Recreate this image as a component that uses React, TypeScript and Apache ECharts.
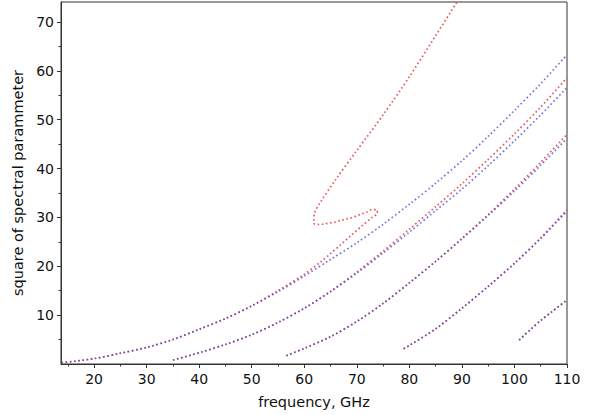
import React, { useEffect, useRef } from "react";
import * as echarts from "echarts";

const xTicks = [20, 30, 40, 50, 60, 70, 80, 90, 100, 110];
const xMinorTicks = [15, 25, 35, 45, 55, 65, 75, 85, 95, 105];
const yTicks = [10, 20, 30, 40, 50, 60, 70];
const yMinorTicks = [5, 15, 25, 35, 45, 55, 65];

// mode 1 (red: with the fold and the steep branch)
const red1F = [13.8, 20, 25, 30, 35, 40, 45, 50, 55, 60, 63, 65, 66.9, 68.9, 71, 72.9, 73.9, 73.9, 72.9, 71.9, 70.9, 69.9, 68.9, 67.9, 66.9, 65.9, 65, 63.9, 62.9, 61.8, 61.96, 63, 66, 70, 75, 80, 85, 89, 90];
const red1V = [0.27, 1.1, 2.2, 3.4, 5.0, 7.1, 9.3, 11.9, 15.0, 18.4, 20.8, 22.6, 24.4, 26.3, 28.3, 30.0, 30.9, 31.5, 31.6, 31.1, 30.7, 30.3, 29.9, 29.65, 29.4, 29.1, 28.9, 28.7, 28.56, 28.8, 30.9, 33.0, 37.8, 43.7, 51.0, 58.8, 67.2, 74.0, 75.8];
const blue1F = [13.8, 20, 25, 30, 35, 40, 45, 50, 55, 60, 65, 70, 75, 80, 85, 90, 95, 100, 105, 110];
const blue1V = [0.27, 1.1, 2.2, 3.4, 5.0, 7.1, 9.3, 11.9, 14.8, 18.0, 21.4, 24.8, 28.6, 32.7, 37.0, 41.6, 46.6, 51.9, 57.4, 63.3];

// mode 2
const mode2F = [35, 40, 45, 50, 55, 60, 65, 70, 75, 80, 85, 90, 95, 100, 105, 110];
const red2V = [0.8, 2.3, 4.0, 6.0, 8.5, 11.4, 14.9, 18.8, 23.1, 27.6, 32.2, 36.9, 41.9, 47.1, 52.6, 58.6];
const blue2V = [0.8, 2.3, 4.0, 6.0, 8.5, 11.4, 14.8, 18.6, 22.7, 27.0, 31.4, 35.8, 40.6, 45.7, 51.0, 56.6];

// mode 3
const mode3F = [56.6, 60, 65, 70, 75, 80, 85, 90, 95, 100, 105, 110];
const red3V = [1.7, 3.2, 5.6, 8.7, 12.4, 16.6, 21.0, 25.7, 30.6, 35.8, 41.3, 47.0];
const blue3V = [1.7, 3.2, 5.6, 8.7, 12.4, 16.6, 21.0, 25.6, 30.4, 35.4, 40.7, 46.2];

// mode 4
const mode4F = [78.9, 80, 85, 90, 95, 100, 105, 110];
const red4V = [3.1, 3.8, 7.2, 11.4, 15.9, 20.6, 25.8, 31.6];
const blue4V = [3.1, 3.8, 7.2, 11.4, 15.9, 20.6, 25.7, 31.3];

// mode 5
const mode5F = [100.9, 103, 105, 107, 110];
const red5V = [4.9, 7.0, 8.9, 10.6, 13.1];
const blue5V = [4.9, 7.0, 8.9, 10.6, 13.1];

const RED = "#e8464a";
const BLUE = "#4444cc";
const FONT = "DejaVu Sans";

const zip = (f: number[], v: number[]) => f.map((x, i) => [x, v[i]]);

function dotted(name: string, data: number[][], color: string, opacity: number) {
  return {
    name,
    type: "line",
    data,
    showSymbol: false,
    symbol: "none",
    smooth: 0.3,
    clip: true,
    lineStyle: { color, width: 1.7, type: [1.6, 2.6], opacity },
    emphasis: { disabled: true },
  };
}

export default function App() {
  const ref = useRef<HTMLDivElement>(null);
  useEffect(() => {
    if (!ref.current) return;
    const chart = echarts.init(ref.current, undefined, { renderer: "svg" });
    const axisColor = "#333";
    chart.setOption({
      animation: false,
      backgroundColor: "#fff",
      grid: {
        left: 61,
        right: 23,
        top: 2,
        bottom: 51,
        show: true,
        borderColor: axisColor,
        borderWidth: 1,
        containLabel: false,
      },
      xAxis: [
        {
          type: "value",
          min: 13.7,
          max: 110,
          name: "frequency, GHz",
          nameLocation: "middle",
          nameGap: 30,
          nameTextStyle: { fontFamily: FONT, fontSize: 14.5, color: "#111" },
          axisLine: { show: true, lineStyle: { color: axisColor, width: 1 } },
          axisTick: { show: true, customValues: xTicks, length: 4, lineStyle: { color: axisColor } },
          axisLabel: { customValues: xTicks, fontFamily: FONT, fontSize: 14, color: "#111", margin: 8 },
          splitLine: { show: false },
        },
        {
          type: "value",
          min: 13.7,
          max: 110,
          position: "bottom",
          axisLine: { show: false },
          axisTick: { show: true, customValues: xMinorTicks, length: 2.5, lineStyle: { color: axisColor } },
          axisLabel: { show: false },
          splitLine: { show: false },
        },
      ],
      yAxis: [
        {
          type: "value",
          min: 0,
          max: 74.1,
          name: "square of spectral parammeter",
          nameLocation: "middle",
          nameGap: 24,
          nameTextStyle: { fontFamily: FONT, fontSize: 14.5, color: "#111" },
          axisLine: { show: true, lineStyle: { color: axisColor, width: 1 } },
          axisTick: { show: true, customValues: yTicks, length: 4, lineStyle: { color: axisColor } },
          axisLabel: { customValues: yTicks, fontFamily: FONT, fontSize: 14, color: "#111", margin: 7 },
          splitLine: { show: false },
        },
        {
          type: "value",
          min: 0,
          max: 74.1,
          position: "left",
          axisLine: { show: false },
          axisTick: { show: true, customValues: yMinorTicks, length: 2.5, lineStyle: { color: axisColor } },
          axisLabel: { show: false },
          splitLine: { show: false },
        },
      ],
      series: [
        dotted("red1", zip(red1F, red1V), RED, 0.9),
        dotted("blue1", zip(blue1F, blue1V), BLUE, 0.75),
        dotted("red2", zip(mode2F, red2V), RED, 0.9),
        dotted("blue2", zip(mode2F, blue2V), BLUE, 0.75),
        dotted("red3", zip(mode3F, red3V), RED, 0.9),
        dotted("blue3", zip(mode3F, blue3V), BLUE, 0.75),
        dotted("red4", zip(mode4F, red4V), RED, 0.9),
        dotted("blue4", zip(mode4F, blue4V), BLUE, 0.75),
        dotted("red5", zip(mode5F, red5V), RED, 0.9),
        dotted("blue5", zip(mode5F, blue5V), BLUE, 0.75),
      ],
    });
    return () => chart.dispose();
  }, []);
  return (
    <div
      ref={ref}
      style={{ position: "absolute", left: 0, top: 0, width: 590, height: 415, background: "#fff" }}
    />
  );
}
